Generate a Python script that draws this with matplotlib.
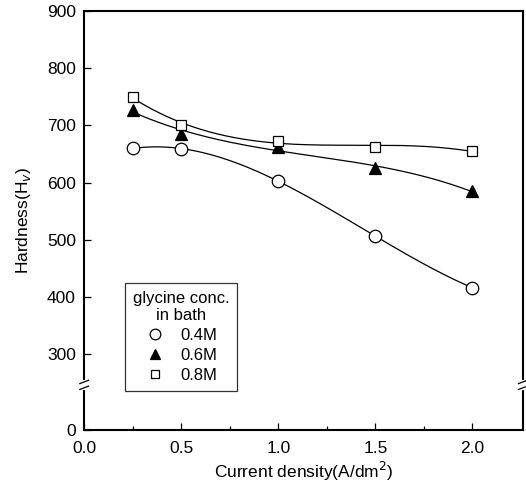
import numpy as np
import matplotlib
matplotlib.use("Agg")
import matplotlib.pyplot as plt
from matplotlib.lines import Line2D

plt.rcParams['font.family'] = ['Liberation Sans', 'DejaVu Sans']

current = [0.25, 0.5, 1.0, 1.5, 2.0]
h_04 = [660, 659, 603, 506, 416]
h_06 = [727, 685, 663, 625, 585]
h_08 = [750, 701, 673, 663, 655]
labels = ['0.4M', '0.6M', '0.8M']
yticks = [300, 400, 500, 600, 700, 800, 900]

ZERO_POS = 167   # axis position where the "0" label sits (broken axis)
BREAK_POS = 246


def smooth(x, y, n=200):
    coef = np.polyfit(x, y, 3)
    xs = np.linspace(min(x), max(x), n)
    return xs, np.polyval(coef, xs)


fig = plt.figure(figsize=(5.26, 4.87), dpi=100)
ax = fig.add_axes([0.16, 0.117, 0.834, 0.860])

styles = [dict(marker='o', mfc='white', ms=9),
          dict(marker='^', mfc='black', ms=8.5),
          dict(marker='s', mfc='white', ms=7.5)]
for ys, st in zip([h_04, h_06, h_08], styles):
    sx, sy = smooth(current, ys)
    ax.plot(sx, sy, color='black', lw=0.9, zorder=2)
    ax.plot(current, ys, ls='none', mec='black', mew=0.9, zorder=3, **st)

ax.set_xlim(0, 2.26)
ax.set_ylim(ZERO_POS, 900)
ax.set_xticks([0.0, 0.5, 1.0, 1.5, 2.0])
ax.set_xticklabels(['0.0', '0.5', '1.0', '1.5', '2.0'])
ax.set_xticks([0.25, 0.75, 1.25, 1.75], minor=True)
ax.set_yticks([ZERO_POS] + yticks)
ax.set_yticklabels(['0'] + [str(v) for v in yticks])
ax.tick_params(which='both', direction='in', labelsize=12.5, width=0.9)
ax.tick_params(which='major', length=5)
ax.tick_params(which='minor', length=3)
ax.tick_params(axis='x', which='major', pad=8)
ax.tick_params(axis='y', which='major', pad=6)
for s in ax.spines.values():
    s.set_linewidth(1.5)

ax.set_xlabel('Current density(A/dm$^2$)', fontsize=12.5, labelpad=3)
ax.set_ylabel('Hardness(H$_v$)', fontsize=12.5, labelpad=10)

# axis break marks on both sides
yb = (BREAK_POS - ZERO_POS) / (900 - ZERO_POS)
for xa in (0, 1):
    ax.plot([xa, xa], [yb - 0.008, yb + 0.008], transform=ax.transAxes,
            color='white', lw=3, clip_on=False, zorder=5)
    for dy in (-0.007, 0.007):
        ax.plot([xa - 0.010, xa + 0.010], [yb + dy - 0.004, yb + dy + 0.004],
                transform=ax.transAxes, color='black', lw=0.9, clip_on=False, zorder=6)

handles = [Line2D([], [], ls='none', mec='black', mew=0.9, **st) for st in styles]
leg = ax.legend(handles, labels, title='glycine conc.\nin bath', loc='lower left',
                bbox_to_anchor=(0.075, 0.074), frameon=True, fancybox=False,
                edgecolor='black', fontsize=12, title_fontsize=12,
                handlelength=1.2, handletextpad=0.9, labelspacing=0.3,
                borderpad=0.45, markerscale=0.85)
leg.get_frame().set_linewidth(0.9)
leg.get_title().set_multialignment('center')

fig.savefig('out.png', dpi=100)
